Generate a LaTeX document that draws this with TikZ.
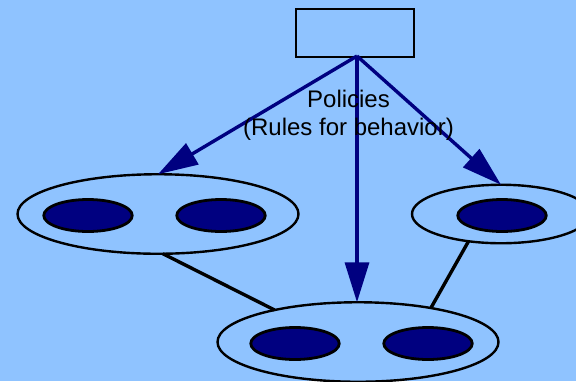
\documentclass[tikz,border=0pt]{standalone}
\usepackage{fontspec}
\setmainfont{Liberation Sans}
\usetikzlibrary{shapes.geometric,arrows.meta}
\definecolor{skybg}{RGB}{143,195,255}
\definecolor{navyc}{RGB}{0,0,128}
\tikzset{
  group/.style={draw=black,line width=2.4bp,ellipse,inner sep=0pt,outer sep=0pt,minimum width=281bp,minimum height=79.5bp},
  smallgroup/.style={group,minimum width=178bp,minimum height=58.5bp},
  member/.style={draw=black,fill=navyc,line width=2.8bp,ellipse,inner sep=0pt,outer sep=0pt,minimum width=88.5bp,minimum height=32bp},
  policybox/.style={draw=black,line width=2.8bp,inner sep=0pt,outer sep=0pt,minimum width=118bp,minimum height=48bp},
  policyarrow/.style={draw=navyc,line width=3.4bp,-{Triangle[length=40bp,width=24bp,fill=navyc]},shorten >=0pt},
  link/.style={draw=black,line width=3.4bp},
  caption/.style={align=center,text=black,font=\fontsize{24bp}{28bp}\selectfont,inner sep=0pt}
}
\begin{document}
\begin{tikzpicture}[x=1bp,y=-1bp]
\fill[skybg] (0,0) rectangle (576,381);
\clip (0,0) rectangle (576,381);
\useasboundingbox (0,0) rectangle (576,381);
\node[policybox] (policy) at (355,33) {};
\coordinate (apex) at (357,56);
\node[group] (left) at (158,214) {};
\node[smallgroup] (right) at (501,214) {};
\node[group] (bottom) at (358,342) {};
\node[member] (l1) at (88,215.5) {};
\node[member] (l2) at (221,215.5) {};
\node[member] (r1) at (502,215.5) {};
\node[member] (b1) at (295,343.5) {};
\node[member] (b2) at (428,343.5) {};
\draw[link] (left.-83) -- (bottom.159.6);
\draw[link] (right.220.3) -- (bottom.25.3);
\draw[policyarrow] (apex) -- (left.north);
\draw[policyarrow] (apex) -- (bottom.north -| apex);
\draw[policyarrow] (apex) -- (right.north);
\node[caption] (label) at (348.5,115) {Policies\\(Rules for behavior)};
\end{tikzpicture}
\end{document}
